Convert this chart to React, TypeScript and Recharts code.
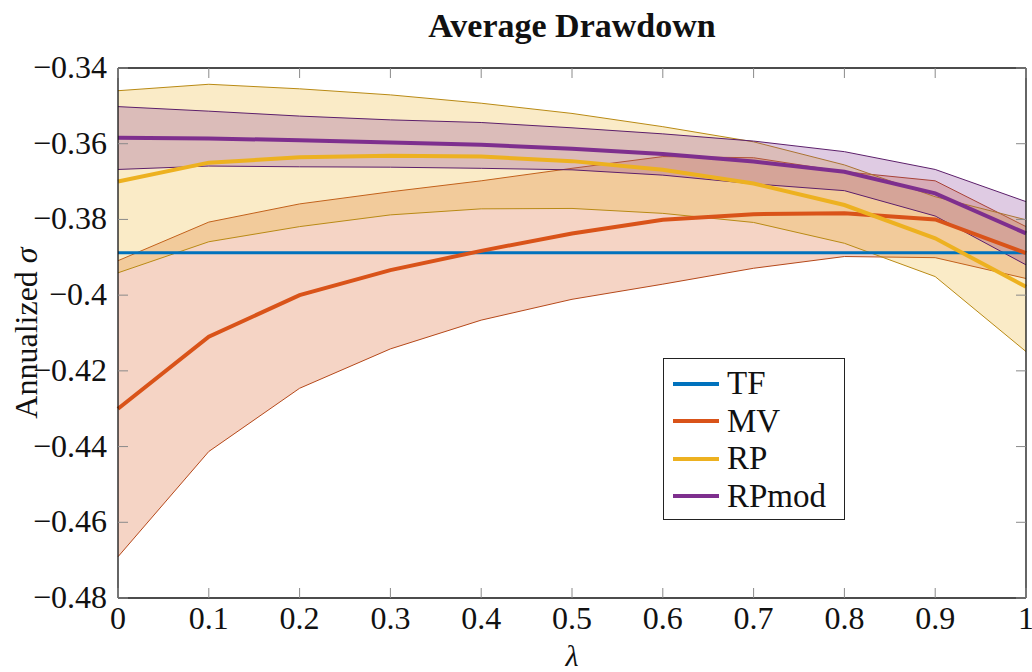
import React from "react"
import {
  ComposedChart,
  Line,
  Area,
  XAxis,
  YAxis,
  Legend,
  Customized,
} from "recharts"

const lambdas = [0, 0.1, 0.2, 0.3, 0.4, 0.5, 0.6, 0.7, 0.8, 0.9, 1]

const tfMean = [-0.3888, -0.3888, -0.3888, -0.3888, -0.3888, -0.3888, -0.3888, -0.3888, -0.3888, -0.3888, -0.3888]

const mvMean = [-0.43, -0.411, -0.4, -0.3934, -0.3883, -0.3837, -0.3801, -0.3786, -0.3784, -0.38, -0.3889]
const mvLow = [-0.4691, -0.4413, -0.4246, -0.4142, -0.4066, -0.4011, -0.3971, -0.3929, -0.3898, -0.3901, -0.3956]
const mvHigh = [-0.3909, -0.3807, -0.3759, -0.3727, -0.3698, -0.3665, -0.3634, -0.3637, -0.3674, -0.3698, -0.3819]

const rpMean = [-0.37, -0.365, -0.3636, -0.3632, -0.3634, -0.3646, -0.3669, -0.3705, -0.3762, -0.385, -0.3978]
const rpLow = [-0.3941, -0.3859, -0.3819, -0.3788, -0.3772, -0.3771, -0.3784, -0.3808, -0.3863, -0.3951, -0.4149]
const rpHigh = [-0.346, -0.3443, -0.3455, -0.3471, -0.3493, -0.352, -0.3555, -0.3595, -0.3656, -0.374, -0.3801]

const rpmodMean = [-0.3584, -0.3586, -0.3591, -0.3597, -0.3603, -0.3613, -0.3627, -0.3647, -0.3674, -0.3731, -0.3837]
const rpmodLow = [-0.3668, -0.3659, -0.3661, -0.3662, -0.3665, -0.3669, -0.3683, -0.3706, -0.3724, -0.3791, -0.392]
const rpmodHigh = [-0.3502, -0.3514, -0.3527, -0.3537, -0.3544, -0.3558, -0.3574, -0.3593, -0.3621, -0.3668, -0.3753]

const yTicks = [-0.48, -0.46, -0.44, -0.42, -0.4, -0.38, -0.36, -0.34]

const legendItems = [
  { name: "TF", color: "#0072BD" },
  { name: "MV", color: "#D95319" },
  { name: "RP", color: "#EDB120" },
  { name: "RPmod", color: "#7E2F8E" },
]

const data = lambdas.map((lam, i) => ({
  lam,
  tf: tfMean[i],
  mv: mvMean[i],
  mvBand: [mvLow[i], mvHigh[i]],
  rp: rpMean[i],
  rpBand: [rpLow[i], rpHigh[i]],
  rpmod: rpmodMean[i],
  rpmodBand: [rpmodLow[i], rpmodHigh[i]],
}))

const FONT = "'Liberation Serif', 'Times New Roman', 'DejaVu Serif', serif"
const TICK = "#8a8a8a"

const fmtY = (v: number) => String(Number(v.toFixed(2))).replace("-", "\u2212")

const BottomTick = (props: any) => {
  const { x, y, payload } = props
  return (
    <g>
      <line x1={x} x2={x} y1={y} y2={y - 10} stroke={TICK} strokeWidth={1} />
      <text x={x} y={y + 31} textAnchor="middle" fontFamily={FONT} fontSize={32} fill="#111">
        {String(payload.value)}
      </text>
    </g>
  )
}

const TopTick = (props: any) => {
  const { x, y } = props
  return <line x1={x} x2={x} y1={y} y2={y + 10} stroke={TICK} strokeWidth={1} />
}

const LeftTick = (props: any) => {
  const { x, y, payload } = props
  return (
    <g>
      <line x1={x} x2={x + 10} y1={y} y2={y} stroke={TICK} strokeWidth={1} />
      <text x={x - 11} y={y + 10} textAnchor="end" fontFamily={FONT} fontSize={32} fill="#111">
        {fmtY(payload.value)}
      </text>
    </g>
  )
}

const RightTick = (props: any) => {
  const { x, y } = props
  return <line x1={x} x2={x - 10} y1={y} y2={y} stroke={TICK} strokeWidth={1} />
}

const LegendBox = () => (
  <div
    style={{
      border: "1.3px solid #222",
      background: "#fff",
      padding: "6px 10px 4px 9px",
      fontFamily: FONT,
      fontSize: 33,
      lineHeight: 1,
      color: "#111",
    }}
  >
    {legendItems.map((it) => (
      <div key={it.name} style={{ display: "flex", alignItems: "center", height: 37.5 }}>
        <svg width={46} height={6} style={{ marginRight: 8 }}>
          <line x1={0} x2={46} y1={3} y2={3} stroke={it.color} strokeWidth={4} />
        </svg>
        <span style={{ fontFamily: FONT }}>{it.name}</span>
      </div>
    ))}
  </div>
)

const Labels = () => (
  <g fontFamily={FONT} fill="#111">
    <text x={572} y={37} textAnchor="middle" fontSize={34} fontWeight="bold" fontFamily={FONT}>
      Average Drawdown
    </text>
    <text x={37} y={333} textAnchor="middle" fontSize={32} fontFamily={FONT} transform="rotate(-90 37 333)">
      Annualized <tspan fontStyle="italic">σ</tspan>
    </text>
    <text x={572} y={666} textAnchor="middle" fontSize={30} fontStyle="italic" fontFamily={FONT}>
      λ
    </text>
  </g>
)

export default function App() {
  return (
    <div style={{ position: "absolute", left: 0, top: 0, width: 1032, height: 672, fontFamily: FONT }}>
      <ComposedChart
        width={1032}
        height={672}
        data={data}
        margin={{ top: 67, right: 5, bottom: 73, left: 117 }}
        style={{ fontFamily: FONT }}
      >
        <XAxis
          dataKey="lam"
          type="number"
          domain={[0, 1]}
          ticks={lambdas}
          height={1}
          tickSize={0}
          tickMargin={0}
          tickLine={false}
          axisLine={{ stroke: "#111", strokeWidth: 1.3 }}
          tick={<BottomTick />}
          interval={0}
        />
        <XAxis
          xAxisId="top"
          dataKey="lam"
          orientation="top"
          type="number"
          domain={[0, 1]}
          ticks={lambdas}
          height={1}
          tickSize={0}
          tickMargin={0}
          tickLine={false}
          axisLine={{ stroke: "#111", strokeWidth: 1.3 }}
          tick={<TopTick />}
          interval={0}
        />
        <YAxis
          type="number"
          domain={[-0.48, -0.34]}
          ticks={yTicks}
          width={1}
          tickSize={0}
          tickMargin={0}
          tickLine={false}
          axisLine={{ stroke: "#111", strokeWidth: 1.3 }}
          tick={<LeftTick />}
          interval={0}
          allowDataOverflow
        />
        <YAxis
          yAxisId="right"
          orientation="right"
          type="number"
          domain={[-0.48, -0.34]}
          ticks={yTicks}
          width={1}
          tickSize={0}
          tickMargin={0}
          tickLine={false}
          axisLine={{ stroke: "#111", strokeWidth: 1.3 }}
          tick={<RightTick />}
          interval={0}
          allowDataOverflow
        />

        <Line
          dataKey="tf"
          type="linear"
          stroke="#0072BD"
          strokeWidth={3.2}
          dot={false}
          isAnimationActive={false}
        />

        <Area
          dataKey="mvBand"
          type="linear"
          fill="#D95319"
          fillOpacity={0.25}
          stroke="#b5481a"
          strokeWidth={1}
          isAnimationActive={false}
        />
        <Line
          dataKey="mv"
          type="linear"
          stroke="#D95319"
          strokeWidth={4}
          dot={false}
          isAnimationActive={false}
        />

        <Area
          dataKey="rpBand"
          type="linear"
          fill="#EDB120"
          fillOpacity={0.25}
          stroke="#b98a14"
          strokeWidth={1}
          isAnimationActive={false}
        />
        <Line
          dataKey="rp"
          type="linear"
          stroke="#EDB120"
          strokeWidth={4}
          dot={false}
          isAnimationActive={false}
        />

        <Area
          dataKey="rpmodBand"
          type="linear"
          fill="#7E2F8E"
          fillOpacity={0.25}
          stroke="#5c1f6b"
          strokeWidth={1}
          isAnimationActive={false}
        />
        <Line
          dataKey="rpmod"
          type="linear"
          stroke="#7E2F8E"
          strokeWidth={4}
          dot={false}
          isAnimationActive={false}
        />

        <Legend
          layout="vertical"
          align="center"
          verticalAlign="middle"
          content={<LegendBox />}
          wrapperStyle={{ position: "absolute", left: 663, top: 358, width: 182 }}
        />
        <Customized component={<Labels />} />
      </ComposedChart>
    </div>
  )
}
